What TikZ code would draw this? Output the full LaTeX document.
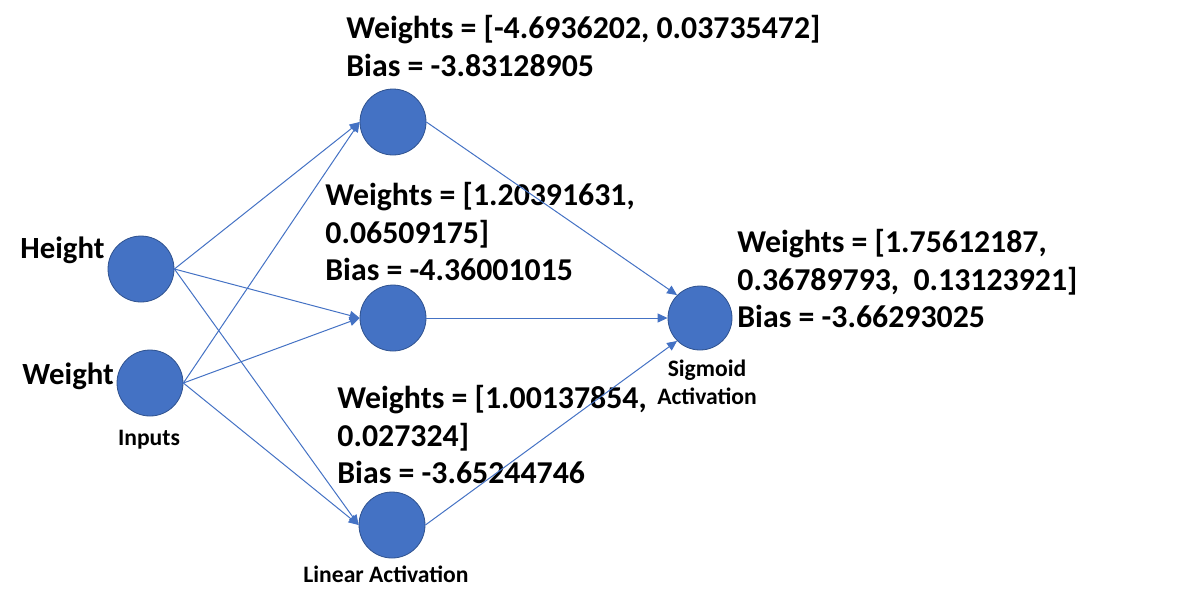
\documentclass[tikz,border=0pt]{standalone}
\usepackage{fontspec}
\setmainfont{Carlito}
\usetikzlibrary{arrows.meta}
\definecolor{nodeblue}{HTML}{4472C4}
\definecolor{nodeedge}{HTML}{2F528F}
\begin{document}
\begin{tikzpicture}[x=0.5pt,y=-0.5pt,
  neuron/.style={circle, fill=nodeblue, draw=nodeedge, line width=0.4pt, minimum size=33pt, inner sep=0pt},
  conn/.style={draw=nodeblue, line width=0.5pt, -{Triangle[length=5pt,width=4.5pt]}},
  big/.style={font=\fontsize{15.9}{18.75}\selectfont\bfseries, inner sep=0pt, align=left, anchor=north west},
  inlabel/.style={font=\fontsize{15.4}{18}\selectfont\bfseries, inner sep=0pt, anchor=base west},
  small/.style={font=\fontsize{11.8}{14}\selectfont\bfseries, inner sep=0pt}]
\useasboundingbox (0,0) rectangle (1195,602);
% texts
\node[big] (t1) at (346,15) {Weights = [-4.6936202, 0.03735472]\\Bias = -3.83128905};
\node[big] (t2) at (325,182) {Weights = [1.20391631,\\0.06509175]\\Bias = -4.36001015};
\node[big] (t3) at (337,385) {Weights = [1.00137854,\\0.027324]\\Bias = -3.65244746};
\node[big] (t4) at (737,229) {Weights = [1.75612187,\\0.36789793,\ \ 0.13123921]\\Bias = -3.66293025};
\node[inlabel] (lh) at (20,258) {Height};
\node[inlabel] (lw) at (22,384) {Weight};
\node[small, anchor=base] (li) at (149,445) {Inputs};
\node[small, anchor=base] (ll) at (386,582) {Linear Activation};
\node[small, anchor=north, align=center] (ls) at (707,360) {Sigmoid\\Activation};
% neurons
\node[neuron] (h) at (141,269) {};
\node[neuron] (w) at (150,383) {};
\node[neuron] (n1) at (393,122) {};
\node[neuron] (n2) at (393,318) {};
\node[neuron] (n3) at (392,525) {};
\node[neuron, minimum size=32pt] (o) at (700,318) {};
% connections
\draw[conn] (h.east) -- (n1.west);
\draw[conn] (h.east) -- (n2.west);
\draw[conn] (h.east) -- (n3.west);
\draw[conn] (w.east) -- (n1.west);
\draw[conn] (w.east) -- (n2.west);
\draw[conn] (w.east) -- (n3.west);
\draw[conn] (n1.east) -- (o.north west);
\draw[conn] (n2.east) -- (o.west);
\draw[conn] (n3.east) -- (o.south west);
\end{tikzpicture}
\end{document}
